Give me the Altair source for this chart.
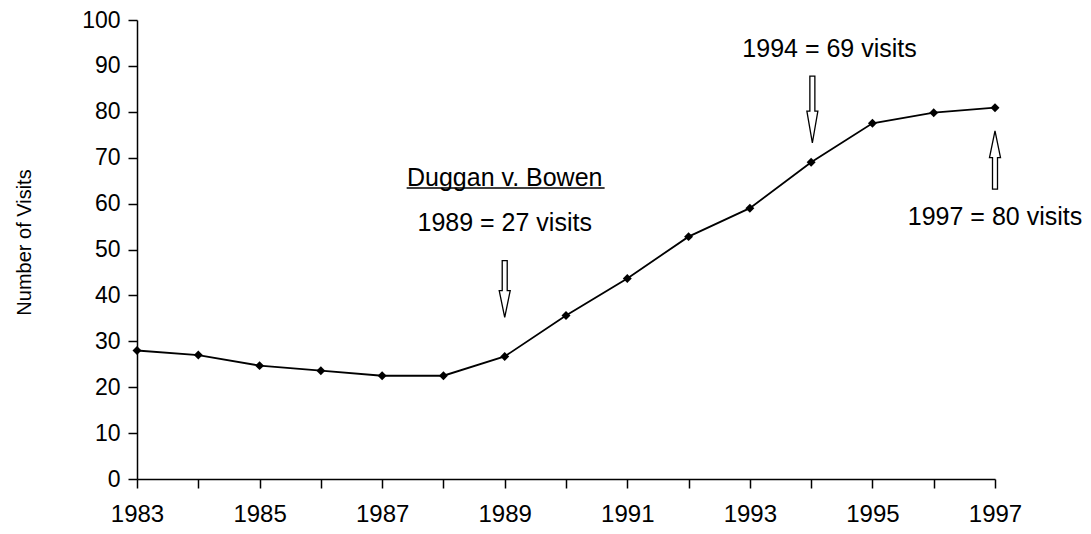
import altair as alt
import pandas as pd

# ---- data ----
years = list(range(1983, 1998))
visits = [28, 27, 24.7, 23.6, 22.5, 22.5, 26.7, 35.6, 43.7, 52.8, 59, 69, 77.5, 79.8, 80.9]

y_ticks = list(range(0, 101, 10))

ann_text = ["Duggan v. Bowen", "1989 = 27 visits", "1994 = 69 visits", "1997 = 80 visits"]
ann_x = [1989.0, 1989.0, 1994.3, 1997.0]
ann_y = [65.6, 55.8, 93.7, 57.1]

underline_x = [1987.40]
underline_x2 = [1990.63]
underline_y = [63.4]

# arrows: centre (year, value), pixel length, head length, direction
arrow_x = [1989.0, 1994.02, 1997.0]
arrow_y = [41.4, 80.5, 69.5]
arrow_len = [56.7, 66.7, 58.3]
arrow_head = [26.7, 31.7, 26.7]
arrow_up = [False, False, True]

FONT = "Liberation Sans"

df = pd.DataFrame({"year": years, "visits": visits})
ann = pd.DataFrame({"x": ann_x, "y": ann_y, "text": ann_text})
ul = pd.DataFrame({"x": underline_x, "x2": underline_x2, "y": underline_y})


def arrow_path(L, H, up, shaft=2.5, head=5.5):
    r = L / 2.0
    s = shaft / r
    h = head / r
    if not up:
        yb = 1 - 2 * H / L
        pts = [(-s, -1), (s, -1), (s, yb), (h, yb), (0, 1), (-h, yb), (-s, yb)]
    else:
        yb = -1 + 2 * H / L
        pts = [(-s, 1), (s, 1), (s, yb), (h, yb), (0, -1), (-h, yb), (-s, yb)]
    return "M " + " L ".join(f"{px:.4f} {py:.4f}" for px, py in pts) + " Z"


x_scale = alt.Scale(domain=[1983, 1997], nice=False, zero=False)
y_scale = alt.Scale(domain=[0, 100], nice=False)

x_enc = alt.X(
    "year:Q",
    scale=x_scale,
    axis=alt.Axis(
        values=years,
        format="d",
        labelExpr="datum.value % 2 == 1 ? datum.label : ''",
        title=None,
        tickSize=9,
        labelPadding=14,
        labelFontSize=24,
        labelOverlap=False,
        labelFlush=False,
    ),
)
y_enc = alt.Y(
    "visits:Q",
    scale=y_scale,
    axis=alt.Axis(
        values=y_ticks,
        title="Number of Visits",
        titleFontSize=20,
        titleFontWeight="normal",
        titleFont=FONT,
        titleColor="black",
        titleX=-113,
        titleY=222,
        titleAlign="center",
        titleBaseline="middle",
        tickSize=9,
        labelPadding=8,
        labelFontSize=23,
        labelOverlap=False,
        labelFlush=False,
    ),
)

line = alt.Chart(df).mark_line(color="black", strokeWidth=1.8).encode(x=x_enc, y=y_enc)
pts = alt.Chart(df).mark_point(
    shape="diamond", filled=True, color="black", size=80, opacity=1
).encode(x="year:Q", y="visits:Q")

texts = alt.Chart(ann).mark_text(
    font=FONT, fontSize=25, color="black", align="center", baseline="middle"
).encode(x="x:Q", y="y:Q", text="text:N")

underline = alt.Chart(ul).mark_rule(color="black", strokeWidth=1.5).encode(
    x="x:Q", x2="x2:Q", y="y:Q"
)

arrow_layers = []
for i in range(len(arrow_x)):
    adf = pd.DataFrame({"x": [arrow_x[i]], "y": [arrow_y[i]]})
    arrow_layers.append(
        alt.Chart(adf).mark_point(
            shape=arrow_path(arrow_len[i], arrow_head[i], arrow_up[i]),
            size=arrow_len[i] ** 2,
            filled=True,
            fill="white",
            stroke="black",
            strokeWidth=1.3,
            opacity=1,
        ).encode(x="x:Q", y="y:Q")
    )

chart = (
    alt.layer(line, pts, texts, underline, *arrow_layers)
    .properties(
        width=858,
        height=459,
        padding={"left": 129, "top": 12, "right": 88, "bottom": 47},
        autosize=alt.AutoSizeParams(type="none"),
        background="white",
    )
    .configure_view(stroke=None)
    .configure_axis(
        grid=False,
        domainColor="black",
        domainWidth=1.5,
        tickColor="black",
        tickWidth=1.5,
        labelFont=FONT,
        labelColor="black",
    )
)

chart.save("out.html", embed_options={"renderer": "svg", "actions": False})
